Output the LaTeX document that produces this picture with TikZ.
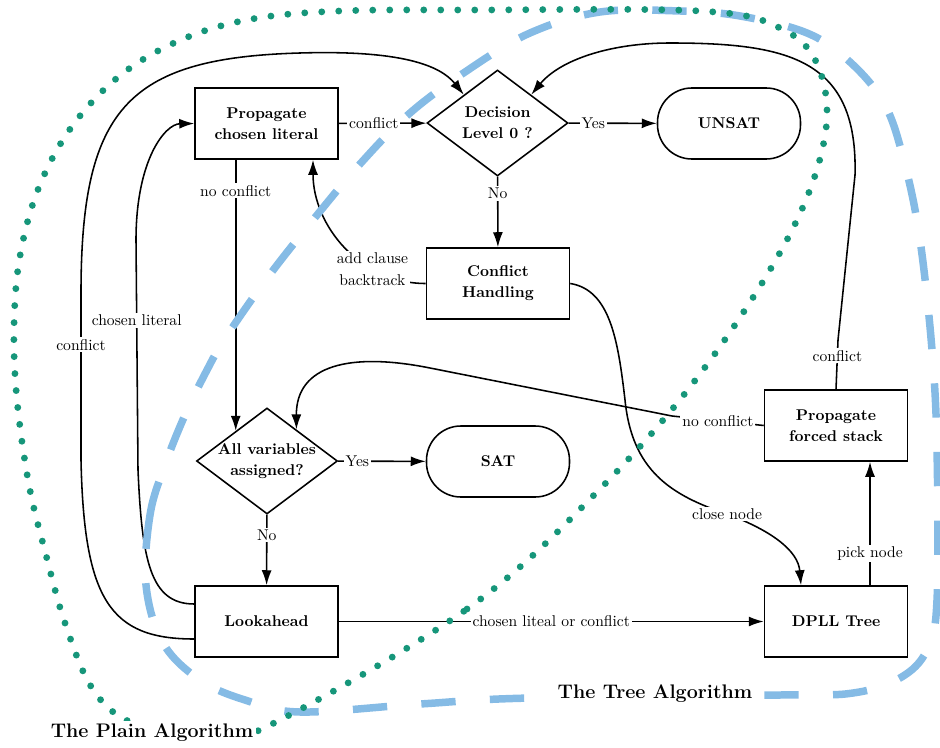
\documentclass[tikz,border=0pt]{standalone}
\usetikzlibrary{shapes.geometric,arrows.meta,calc}
\definecolor{plaingreen}{RGB}{22,150,122}
\definecolor{treeblue}{RGB}{133,187,229}
\def\pxu{0.641pt}
\tikzset{
 box/.style={draw, line width=1pt, minimum width=143*\pxu, minimum height=71*\pxu, inner sep=0pt, align=center, font=\fontsize{10}{13.5}\selectfont\bfseries},
 term/.style={box, rounded corners=22pt},
 dia/.style={diamond, draw, line width=1pt, minimum width=141*\pxu, minimum height=106*\pxu, inner sep=0pt},
 diatext/.style={align=center, font=\fontsize{10}{13.5}\selectfont\bfseries, inner sep=0pt},
 lbl/.style={fill=white, inner sep=1.2pt, font=\fontsize{10}{13.5}\selectfont, align=center},
 arr/.style={line width=1pt, -{Latex[length=9.6pt,width=6.4pt]}},
 conn/.style={line width=1pt},
 regionlabel/.style={fill=white, inner sep=2pt, font=\fontsize{12.6}{15}\selectfont\bfseries},
 plainregion/.style={draw=plaingreen, line width=4.4pt, line cap=round, dash pattern=on 0pt off 10.9pt},
 treeregion/.style={draw=treeblue, line width=4.8pt, dash pattern=on 22pt off 22pt},
}
\begin{document}
\begin{tikzpicture}[x=0.641pt, y=-0.641pt]
\useasboundingbox (0,0) rectangle (940,747);
% nodes
\node[box] (prop) at (266.5,123.5) {Propagate\\chosen literal};
\node[dia] (dec) at (497.5,123) {};
\node[diatext] (dect) at (dec) {Decision\\Level 0 ?};
\node[term] (unsat) at (729,123.5) {UNSAT};
\node[box] (ch) at (498,283.5) {Conflict\\Handling};
\node[dia] (av) at (267,461) {};
\node[diatext] (avt) at (av) {All variables\\assigned?};
\node[term] (sat) at (498,461.5) {SAT};
\node[box] (la) at (266.5,621.5) {Lookahead};
\node[box] (dpll) at (836,621.5) {DPLL Tree};
\node[box] (pfs) at (836,425.5) {Propagate\\forced stack};
% straight connectors
\draw[arr] (prop) -- node[lbl,pos=0.4]{conflict} (dec);
\draw[arr] (dec) -- node[lbl,pos=0.28]{Yes} (unsat);
\draw[arr] (dec) -- node[lbl,pos=0.24]{No} (ch);
\draw[arr] (prop.south -| av.136) -- node[lbl,pos=0.115]{no conflict} (av.136);
\draw[arr] (av) -- node[lbl,pos=0.22]{Yes} (sat);
\draw[arr] (av) -- node[lbl,pos=0.29]{No} (la);
\draw[arr] (la) -- node[lbl,midway]{chosen liteal or conflict} (dpll);
\draw[arr] ($(dpll.north)+(34,0)$) -- node[lbl,pos=0.256]{pick node} ($(pfs.south)+(34,0)$);
% curved connectors
\draw[arr] (ch.west) to[out=180,in=-90] node[lbl,pos=0.3]{add clause\\backtrack} ($(prop.south)+(46.5,0)$);
\draw[arr] (pfs.west) -- node[lbl]{no conflict} (672,416) -- (430,368)
  .. controls (350,352) and (296,365) .. (av.47);
\draw[arr] (pfs.north) -- node[lbl,pos=0.68]{conflict} (838,340) -- (855,175)
  .. controls (858,60) and (790,43) .. (670,43)
  .. controls (610,43) and (560,60) .. (dec.40);
\draw[arr] ($(la.west)+(0,-17.5)$) .. controls (150,604) and (142,560) .. (138,470)
  -- node[lbl,pos=0.65]{chosen literal} (136,240)
  .. controls (136,160) and (165,124) .. (prop.west);
\draw[arr] ($(la.west)+(0,17.5)$) .. controls (110,639) and (84,600) .. (81,460)
  -- node[lbl,pos=0.72]{conflict} (81,300)
  .. controls (80,110) and (125,58) .. (300,53)
  .. controls (400,50) and (440,65) .. (dec.140);
\draw[arr] (ch.east) .. controls (610,290) and (618,340) .. (625,400)
  .. controls (632,470) and (670,495) .. (727,514) node[lbl]{close node}
  .. controls (770,530) and (798,550) .. ($(dpll.north)+(-35,0)$);
% regions
\draw[treeregion] plot[smooth cycle, tension=0.6] coordinates {
 (146,585) (150,515) (165,465) (185,415) (207,370) (226,337) (268,277) (313,220)
 (360,164) (410,113) (468,70) (530,33) (600,12) (680,11) (740,16) (807,33)
 (850,62) (885,105) (905,165) (920,240) (932,350) (937,450) (937,600) (927,650)
 (900,678) (853,693) (780,695) (530,698) (420,704) (300,712) (245,700) (200,680) (163,643)};
\draw[plainregion] plot[smooth cycle, tension=0.6] coordinates {
 (268,726) (467,609) (598,491) (703,370) (789,236) (825,136) (818,66) (780,28)
 (700,11) (470,10) (340,11) (252,19) (183,39) (122,74) (73,125) (39,187)
 (20,256) (14,327) (17,400) (29,485) (46,555) (65,623) (92,688) (130,722) (200,740)};
\node[regionlabel] (plainlbl) at (152,733) {The Plain Algorithm};
\node[regionlabel] (treelbl) at (655,694) {The Tree Algorithm};
\end{tikzpicture}
\end{document}
